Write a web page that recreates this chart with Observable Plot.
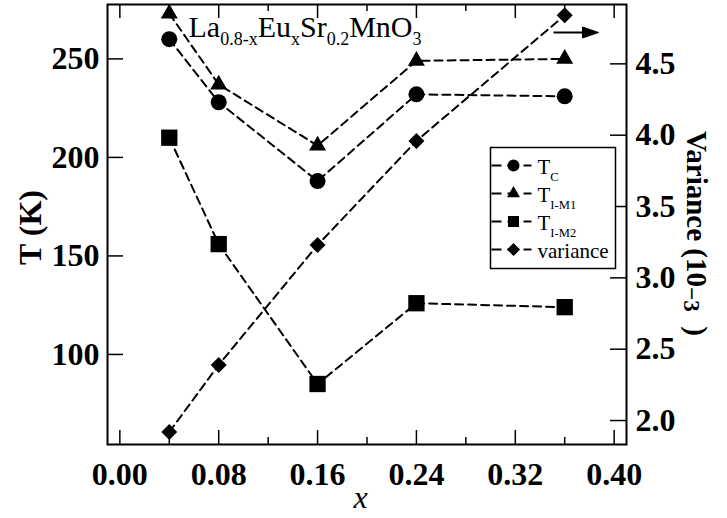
<!DOCTYPE html>
<html><head><meta charset="utf-8">
<script src="https://cdn.jsdelivr.net/npm/d3@7"></script>
<script src="https://cdn.jsdelivr.net/npm/@observablehq/plot@0.6"></script>
<style>body{margin:0;background:#fff}</style>
</head><body><div id="chart"></div>
<script>
// ---- data ----
const xs = [0.04, 0.08, 0.16, 0.24, 0.36];
const tC = [260, 228, 188, 232, 231];
const tIM1 = [273, 237, 206, 249, 250];
const tIM2 = [210, 156, 85, 126, 124];
const variance = [1.92, 2.39, 3.23, 3.96, 4.84];
const xMajorTicks = [0, 0.08, 0.16, 0.24, 0.32, 0.40];
const xMinorTicks = [0.04, 0.12, 0.20, 0.28, 0.36];
const tTicks = [100, 150, 200, 250];
const varTicks = [2.0, 2.5, 3.0, 3.5, 4.0, 4.5];
const titleText = "La_{0.8-x}Eu_{x}Sr_{0.2}MnO_{3}";
const legendLabels = ["T_{C}", "T_{I-M1}", "T_{I-M2}", "variance"];
const legendSymbols = ["circle", "triangle", "square", "diamond2"];

// ---- layout ----
const W = 727, H = 518;
const mL = 107, mR = 101, mT = 4, mB = 74;
const fw = W - mL - mR, fh = H - mT - mB;
const tDomain = [54.3, 277.6];
const vDomain = [1.832, 4.916];
const k = (tDomain[1] - tDomain[0]) / (vDomain[1] - vDomain[0]);
const toT = v => tDomain[0] + (v - vDomain[0]) * k;
const fromT = t => vDomain[0] + (t - tDomain[0]) / k;

const rows = xs.map((x, i) => ({x, tC: tC[i], tIM1: tIM1[i], tIM2: tIM2[i], v: variance[i]}));

const lineOpts = {stroke: "black", strokeWidth: 2, strokeDasharray: "8,5"};
const serif = "'Liberation Serif', 'Times New Roman', serif";

const dashSymbol = {draw(ctx) { ctx.moveTo(-22, 0); ctx.lineTo(18, 0); }};
const shaftSymbol = {draw(ctx) { ctx.moveTo(-23, 0); ctx.lineTo(9, 0); }};
const headSymbol = {draw(ctx) { ctx.moveTo(22, 0); ctx.lineTo(6, -5.5); ctx.lineTo(6, 5.5); ctx.closePath(); }};

const legendR = {circle: 6, triangle: 4.8, square: 6.2, diamond2: 5.9};
const mainR = {circle: 8, triangle: 6.3, square: 9.2, diamond2: 7.2};
const legendRowsY = [161, 189, 217, 245];

const legendMarks = [];
legendLabels.forEach((lab, i) => {
  legendMarks.push(Plot.dot([0], {frameAnchor: "top-left", dx: 406, dy: legendRowsY[i],
    symbol: dashSymbol, r: 1, fill: "none", stroke: "black", strokeWidth: 2, strokeDasharray: "10,6"}));
  legendMarks.push(Plot.dot([0], {frameAnchor: "top-left", dx: 406, dy: legendRowsY[i],
    symbol: legendSymbols[i], r: legendR[legendSymbols[i]], fill: "black", stroke: "none"}));
  legendMarks.push(Plot.text([lab], {frameAnchor: "top-left", dx: 430, dy: legendRowsY[i] + 2,
    text: d => d, textAnchor: "start", lineAnchor: "middle", fontSize: 21, fontFamily: serif}));
});

const chart = Plot.plot({
  width: W, height: H,
  marginLeft: mL, marginRight: mR, marginTop: mT, marginBottom: mB,
  style: {fontFamily: serif, background: "white", color: "black", overflow: "visible"},
  x: {domain: [-0.01, 0.41]},
  y: {domain: tDomain},
  marks: [
    // ticks (inward)
    Plot.tickX(xMajorTicks, {x: d => d, insetTop: fh - 14, stroke: "black", strokeWidth: 1.5}),
    Plot.tickX(xMinorTicks, {x: d => d, insetTop: fh - 7, stroke: "black", strokeWidth: 1.5}),
    Plot.tickX(xMajorTicks, {x: d => d, insetBottom: fh - 14, stroke: "black", strokeWidth: 1.5}),
    Plot.tickX(xMinorTicks, {x: d => d, insetBottom: fh - 7, stroke: "black", strokeWidth: 1.5}),
    Plot.tickY(tTicks, {y: d => d, insetRight: fw - 16, stroke: "black", strokeWidth: 1.5}),
    Plot.tickY(varTicks.map(toT), {y: d => d, insetLeft: fw - 16, stroke: "black", strokeWidth: 1.5}),
    // tick labels
    Plot.axisX(xMajorTicks, {anchor: "bottom", tickSize: 0, tickPadding: 18, tickFormat: d => d.toFixed(2),
      fontSize: 32, fontWeight: "bold", fontFamily: serif, label: null}),
    Plot.axisY(tTicks, {anchor: "left", tickSize: 0, tickPadding: 8, tickFormat: d => String(d),
      fontSize: 32, fontWeight: "bold", fontFamily: serif, label: null}),
    Plot.axisY(varTicks.map(toT), {anchor: "right", tickSize: 0, tickPadding: 9, tickFormat: d => fromT(d).toFixed(1),
      fontSize: 32, fontWeight: "bold", fontFamily: serif, label: null}),
    // axis titles
    Plot.text(["x"], {frameAnchor: "bottom-left", dx: 253, dy: 53, text: d => d, textAnchor: "middle", lineAnchor: "middle",
      fontSize: 32, fontStyle: "italic", fontFamily: serif}),
    Plot.text(["T (K)"], {frameAnchor: "left", dx: -77, dy: 3, rotate: -90, text: d => d, textAnchor: "middle", lineAnchor: "middle",
      fontSize: 32, fontWeight: "bold", fontFamily: serif}),
    Plot.text(["Variance (10~{\u22123}  )"], {frameAnchor: "right", dx: 70, dy: 9, rotate: 90, text: d => d, textAnchor: "middle", lineAnchor: "middle",
      fontSize: 29, fontWeight: "bold", fontFamily: serif}),
    // data lines
    Plot.line(rows, {x: "x", y: "tC", ...lineOpts}),
    Plot.line(rows, {x: "x", y: "tIM1", ...lineOpts}),
    Plot.line(rows, {x: "x", y: "tIM2", ...lineOpts}),
    Plot.line(rows, {x: "x", y: d => toT(d.v), ...lineOpts}),
    // data points
    Plot.dot(rows, {x: "x", y: "tC", symbol: "circle", r: mainR.circle, fill: "black"}),
    Plot.dot(rows, {x: "x", y: "tIM1", symbol: "triangle", r: mainR.triangle, fill: "black"}),
    Plot.dot(rows, {x: "x", y: "tIM2", symbol: "square", r: mainR.square, fill: "black"}),
    Plot.dot(rows, {x: "x", y: d => toT(d.v), symbol: "diamond2", r: mainR.diamond2, fill: "black"}),
    // title & arrow
    Plot.text([titleText], {frameAnchor: "top-left", dx: 81, dy: 22.4, text: d => d, textAnchor: "start", lineAnchor: "middle",
      fontSize: 30, fontFamily: serif}),
    Plot.dot([0], {frameAnchor: "top-left", dx: 469, dy: 28, symbol: shaftSymbol, r: 1, fill: "none", stroke: "black", strokeWidth: 2}),
    Plot.dot([0], {frameAnchor: "top-left", dx: 469, dy: 28, symbol: headSymbol, r: 1, fill: "black", stroke: "black", strokeWidth: 1}),
    // legend
    Plot.frame({insetLeft: 383, insetRight: 11, insetTop: 143, insetBottom: 176, stroke: "black", strokeWidth: 1.5, fill: "white"}),
    ...legendMarks,
    Plot.frame({stroke: "black", strokeWidth: 2})
  ]
});
document.getElementById("chart").appendChild(chart);

// rich text: _{sub}, ^{sup}, ~{superscript drawn on the lower side, as in the reference's rotated label}
const NS = "http://www.w3.org/2000/svg";
d3.select(chart).selectAll("text").each(function() {
  const s = this.textContent;
  if (!/[_^~]\{/.test(s)) return;
  const fs = parseFloat(getComputedStyle(this).fontSize);
  const parts = [];
  const re = /([_^~])\{([^}]*)\}|([^_^~]+)/g;
  let m;
  while ((m = re.exec(s))) parts.push(m[3] !== undefined ? {type: "", text: m[3]} : {type: m[1], text: m[2]});
  this.textContent = "";
  let shift = 0;
  for (const p of parts) {
    const t = document.createElementNS(NS, "tspan");
    const target = p.type === "_" ? 0.3 * fs : p.type === "^" ? -0.4 * fs : p.type === "~" ? 0.12 * fs : 0;
    if (target !== shift) t.setAttribute("dy", target - shift);
    shift = target;
    if (p.type === "~") t.setAttribute("font-size", 0.8 * fs);
    else if (p.type) t.setAttribute("font-size", 0.6 * fs);
    t.textContent = p.text;
    this.appendChild(t);
  }
});
</script></body></html>
